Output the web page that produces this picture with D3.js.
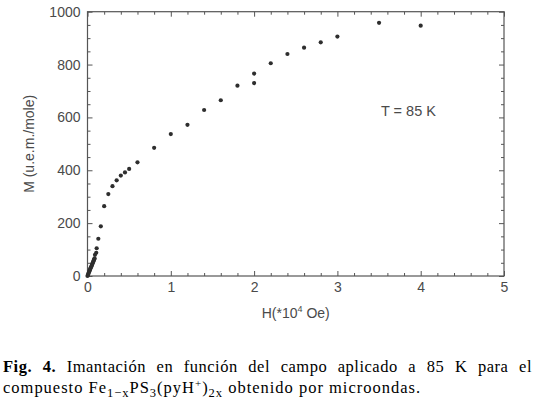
<!DOCTYPE html>
<html><head><meta charset="utf-8">
<script src="https://cdn.jsdelivr.net/npm/d3@7"></script>
<style>body{margin:0;background:#fff}svg{display:block}</style>
</head><body>
<svg id="c" width="537" height="406"></svg>
<script>
// Data: H in 10^4 Oe, M in u.e.m./mole
const H = [0, 0.005, 0.01, 0.015, 0.02, 0.025, 0.03, 0.035, 0.04, 0.045, 0.05, 0.055, 0.06, 0.065, 0.07, 0.075, 0.08, 0.085,
  0.09, 0.105, 0.11, 0.13, 0.16, 0.20, 0.25, 0.30, 0.35, 0.40, 0.45, 0.50, 0.60, 0.80, 1.0, 1.2, 1.4, 1.6, 1.8, 2.0, 2.0, 2.2, 2.4, 2.6, 2.8, 3.0, 3.5, 4.0];
const M = [0, 4, 8, 12, 16, 20, 24, 28, 32, 35, 39, 43, 47, 51, 55, 59, 63, 67,
  80, 88, 105, 141, 188, 264, 310, 340, 362, 380, 392, 405, 430, 485, 537, 572, 628, 665, 720, 730, 766, 805, 840, 864, 884, 906, 958, 947];
const xMajor = [0, 1, 2, 3, 4, 5];
const xMinor = [0.2, 0.4, 0.6, 0.8, 1.2, 1.4, 1.6, 1.8, 2.2, 2.4, 2.6, 2.8, 3.2, 3.4, 3.6, 3.8, 4.2, 4.4, 4.6, 4.8];
const yMajor = [0, 200, 400, 600, 800, 1000];
const yMinor = [50, 100, 150, 250, 300, 350, 450, 500, 550, 650, 700, 750, 850, 900, 950];
const xTitle = "H(*10";
const yTitle = "M (u.e.m./mole)";
const note = "T = 85 K";

const svg = d3.select("#c");
const L = 87.5, R = 504, T = 11.7, B = 276;
const x = d3.scaleLinear().domain([0, 5]).range([L, R]);
const y = d3.scaleLinear().domain([0, 1000]).range([B, T]);
const axCol = "#555", txtCol = "#4a4a4a";
const font = "Liberation Sans, Arial, sans-serif";

function styleAxis(g, hideText) {
  g.select(".domain").remove();
  g.selectAll("line").attr("stroke", axCol).attr("stroke-width", 1);
  g.selectAll("text").attr("fill", txtCol).style("font-family", font).style("font-size", "14px");
  if (hideText) g.selectAll("text").remove();
}
// bottom
svg.append("g").attr("transform", `translate(0,${B})`)
  .call(d3.axisBottom(x).tickValues(xMajor).tickSize(-5).tickPadding(6).tickFormat(d3.format("d")))
  .call(g => styleAxis(g, false));
svg.append("g").attr("transform", `translate(0,${B})`)
  .call(d3.axisBottom(x).tickValues(xMinor).tickSize(-3).tickFormat(""))
  .call(g => styleAxis(g, true));
// top
svg.append("g").attr("transform", `translate(0,${T})`)
  .call(d3.axisTop(x).tickValues(xMajor).tickSize(-5).tickFormat(""))
  .call(g => styleAxis(g, true));
svg.append("g").attr("transform", `translate(0,${T})`)
  .call(d3.axisTop(x).tickValues(xMinor).tickSize(-3).tickFormat(""))
  .call(g => styleAxis(g, true));
// left
svg.append("g").attr("transform", `translate(${L},0)`)
  .call(d3.axisLeft(y).tickValues(yMajor).tickSize(-5).tickPadding(7).tickFormat(d3.format("d")))
  .call(g => styleAxis(g, false));
svg.append("g").attr("transform", `translate(${L},0)`)
  .call(d3.axisLeft(y).tickValues(yMinor).tickSize(-3).tickFormat(""))
  .call(g => styleAxis(g, true));
// right
svg.append("g").attr("transform", `translate(${R},0)`)
  .call(d3.axisRight(y).tickValues(yMajor).tickSize(-5).tickFormat(""))
  .call(g => styleAxis(g, true));
svg.append("g").attr("transform", `translate(${R},0)`)
  .call(d3.axisRight(y).tickValues(yMinor).tickSize(-3).tickFormat(""))
  .call(g => styleAxis(g, true));

// frame
svg.append("rect").attr("x", L).attr("y", T).attr("width", R - L).attr("height", B - T)
  .attr("fill", "none").attr("stroke", axCol).attr("stroke-width", 1.2);

// points
svg.append("g").selectAll("circle").data(H.map((h, i) => [h, M[i]])).join("circle")
  .attr("cx", d => x(d[0])).attr("cy", d => y(d[1])).attr("r", 2.1)
  .attr("fill", "#2e2e2e");

// axis titles
const xt = svg.append("text").attr("x", (L + R) / 2).attr("y", 318).attr("text-anchor", "middle")
  .attr("fill", txtCol).style("font-family", font).style("font-size", "14px");
xt.append("tspan").text(xTitle);
xt.append("tspan").text("4").attr("dy", -6).style("font-size", "9px");
xt.append("tspan").text(" Oe)").attr("dy", 6);

svg.append("text").attr("transform", `translate(34,${(T + B) / 2}) rotate(-90)`)
  .attr("text-anchor", "middle").attr("fill", txtCol)
  .style("font-family", font).style("font-size", "14px").text(yTitle);

svg.append("text").attr("x", x(3.853)).attr("y", y(607)).attr("text-anchor", "middle")
  .attr("fill", txtCol).style("font-family", font).style("font-size", "14.5px").text(note);

// caption
const capFont = "Liberation Serif, 'Times New Roman', serif";
const capSize = "16.5px", capLS = "0.5px";
const line1 = [["Fig.", true], ["4.", true], ["Imantación", false], ["en", false], ["función", false], ["del", false],
  ["campo", false], ["aplicado", false], ["a", false], ["85", false], ["K", false], ["para", false], ["el", false]];
const left = 3, right = 532, base1 = 372, base2 = 392.5;
const widths = line1.map(([w, b]) => {
  const t = svg.append("text").style("font-family", capFont).style("font-size", capSize)
    .style("letter-spacing", capLS).style("font-weight", b ? "bold" : "normal").text(w);
  const wd = t.node().getComputedTextLength(); t.remove(); return wd;
});
const gap = (right - left - d3.sum(widths)) / (line1.length - 1);
let cx = left;
line1.forEach(([w, b], i) => {
  svg.append("text").attr("x", cx).attr("y", base1).attr("fill", "#000")
    .style("font-family", capFont).style("font-size", capSize).style("letter-spacing", capLS)
    .style("font-weight", b ? "bold" : "normal").text(w);
  cx += widths[i] + gap;
});
const l2 = svg.append("text").attr("x", left).attr("y", base2).attr("fill", "#000")
  .attr("textLength", 417).attr("lengthAdjust", "spacing")
  .style("font-family", capFont).style("font-size", capSize);
l2.append("tspan").text("compuesto Fe");
l2.append("tspan").text("1\u2212x").attr("dy", 4).style("font-size", "12.5px");
l2.append("tspan").text("PS").attr("dy", -4);
l2.append("tspan").text("3").attr("dy", 4).style("font-size", "12.5px");
l2.append("tspan").text("(pyH").attr("dy", -4);
l2.append("tspan").text("+").attr("dy", -6).style("font-size", "11px");
l2.append("tspan").text(")").attr("dy", 6);
l2.append("tspan").text("2x").attr("dy", 4).style("font-size", "12.5px");
l2.append("tspan").text(" obtenido por microondas.").attr("dy", -4);
</script>
</body></html>
